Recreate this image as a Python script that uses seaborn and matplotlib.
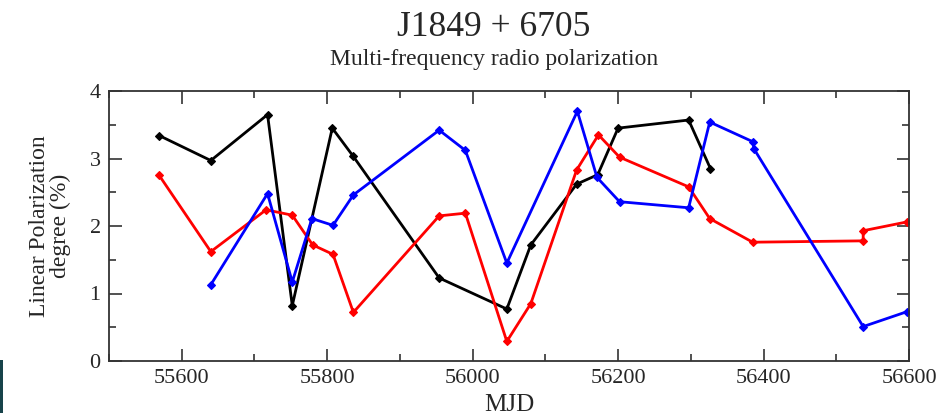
import matplotlib
matplotlib.use("Agg")
import matplotlib.pyplot as plt
import seaborn as sns
import pandas as pd
from matplotlib.patches import Rectangle
from matplotlib.ticker import MultipleLocator

black_mjd = [55569, 55640, 55718, 55752, 55807, 55836, 55954, 56047, 56080, 56143, 56172, 56200, 56297, 56327]
black_pol = [3.34, 2.97, 3.65, 0.82, 3.45, 3.03, 1.23, 0.77, 1.72, 2.62, 2.76, 3.45, 3.57, 2.85]

red_mjd = [55569, 55640, 55716, 55752, 55780, 55808, 55836, 55954, 55990, 56047, 56080, 56143, 56173, 56202, 56297, 56326, 56385, 56537, 56537, 56597]
red_pol = [2.75, 1.62, 2.24, 2.16, 1.72, 1.58, 0.72, 2.15, 2.19, 0.29, 0.85, 2.83, 3.35, 3.02, 2.58, 2.11, 1.76, 1.78, 1.93, 2.06]

blue_mjd = [55640, 55718, 55752, 55779, 55808, 55836, 55954, 55990, 56047, 56144, 56171, 56202, 56297, 56326, 56385, 56387, 56537, 56597]
blue_pol = [1.13, 2.48, 1.17, 2.11, 2.01, 2.46, 3.42, 3.12, 1.45, 3.70, 2.72, 2.36, 2.27, 3.54, 3.25, 3.14, 0.51, 0.73]

x_ticks = [55600, 55800, 56000, 56200, 56400, 56600]
y_ticks = [0, 1, 2, 3, 4]

sns.set_style("ticks")
plt.rcParams["font.family"] = ["Liberation Serif", "DejaVu Serif"]
plt.rcParams["mathtext.fontset"] = "stix"

fig = plt.figure(figsize=(9.52, 4.17), dpi=100)
ax = fig.add_axes([109/952, 1-361/417, 800/952, 270/417])

series = [(black_mjd, black_pol, "black"), (red_mjd, red_pol, "red"), (blue_mjd, blue_pol, "blue")]
for xs, ys, c in series:
    df = pd.DataFrame({"MJD": xs, "pol": ys})
    sns.lineplot(data=df, x="MJD", y="pol", ax=ax, color=c, sort=False, estimator=None,
                 marker="D", markersize=4, markeredgewidth=0.8, markeredgecolor=c,
                 linewidth=2.0)

ax.set_xlim(55500, 56600)
ax.set_ylim(0, 4)
ax.set_xticks(x_ticks)
ax.set_yticks(y_ticks)
ax.xaxis.set_minor_locator(MultipleLocator(100))
ax.yaxis.set_minor_locator(MultipleLocator(0.5))
ax.tick_params(which="both", direction="in", top=True, right=True, color="#333333", width=1.2)
ax.tick_params(which="major", length=9, labelsize=16, pad=6)
ax.tick_params(which="minor", length=5)
for s in ax.spines.values():
    s.set_linewidth(1.3)
    s.set_color("#333333")
    s.set_visible(True)

ax.set_xlabel("MJD", fontsize=18, labelpad=4)
ax.set_ylabel("Linear Polarization\ndegree (%)", fontsize=17, labelpad=13, linespacing=1.0)

fig.text(494/952, 1-28/417, "J1849 + 6705", ha="center", va="center", fontsize=25.5)
fig.text(494/952, 1-60/417, "Multi-frequency radio polarization", ha="center", va="center", fontsize=17)

fig.patches.append(Rectangle((0, 4/417), 3/952, 53/417, transform=fig.transFigure,
                             facecolor="#17434a", edgecolor="none"))

fig.savefig("out.png", dpi=100, facecolor="white")
